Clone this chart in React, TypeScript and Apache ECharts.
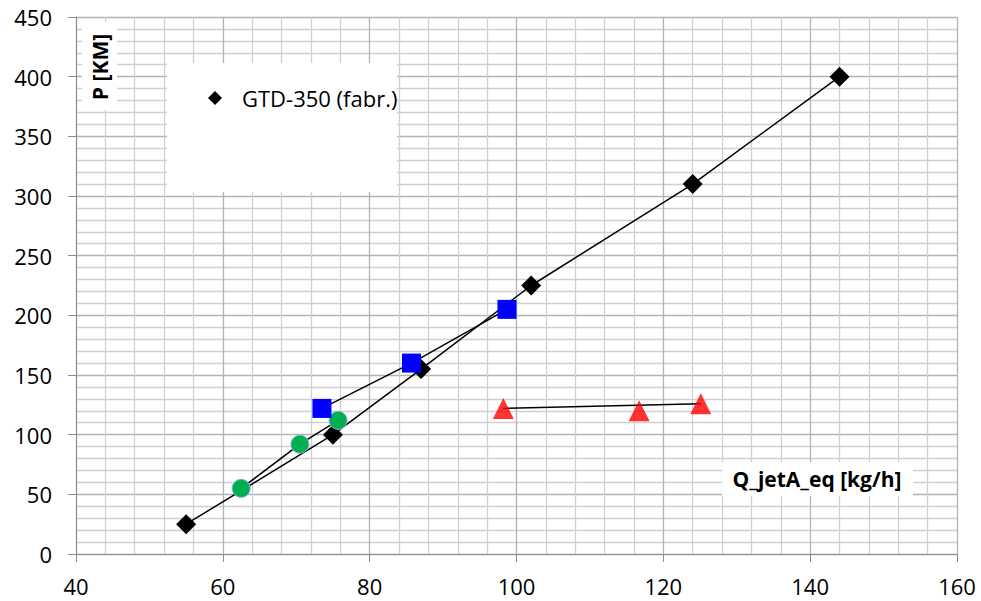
import React, { useEffect, useRef } from "react";
import * as echarts from "echarts";

const gtdX = [55, 75, 87, 102, 124, 144];
const gtdY = [25, 100, 155, 225, 310, 400];
const blueX = [73.5, 85.7, 98.7];
const blueY = [122, 160, 205];
const greenX = [62.5, 70.5, 75.7];
const greenY = [55, 92, 112];
const redX = [98.2, 116.7, 125.1];
const redY = [122, 120, 126];

const legendName = "GTD-350 (fabr.)";
const xAxisName = "Q_jetA_eq [kg/h]";
const yAxisName = "P [KM]";

const pairs = (xs: number[], ys: number[]) => xs.map((x, i) => [x, ys[i]]);

export default function App() {
  const ref = useRef<HTMLDivElement>(null);
  useEffect(() => {
    if (!ref.current) return;
    const chart = echarts.init(ref.current, undefined, { renderer: "svg" });
    const font = "'Open Sans', 'Noto Sans', sans-serif";
    const redLine = [
      [redX[0], redY[0]],
      [redX[redX.length - 1], redY[redY.length - 1]],
    ];
    chart.setOption({
      animation: false,
      backgroundColor: "#ffffff",
      textStyle: { fontFamily: font },
      grid: { left: 76, right: 24, top: 17, bottom: 47, containLabel: false },
      legend: {
        data: [{ name: legendName, icon: "diamond" }],
        left: 203,
        top: 82,
        itemWidth: 14,
        itemHeight: 14,
        itemGap: 10,
        textStyle: { fontSize: 22, color: "#000", fontFamily: font, padding: [0, 0, 0, 15] },
        z: 5,
      },
      xAxis: {
        type: "value",
        min: 40,
        max: 160,
        interval: 20,
        axisLine: { show: true, lineStyle: { color: "#8c8c8c", width: 1 } },
        axisTick: { show: true, length: 8, lineStyle: { color: "#8c8c8c" } },
        axisLabel: { fontSize: 22, color: "#000", margin: 21, fontFamily: font },
        splitLine: { show: true, lineStyle: { color: "#b3b3b3", width: 1.3 } },
        minorTick: { show: false, splitNumber: 5 },
        minorSplitLine: { show: true, lineStyle: { color: "#d0d0d0", width: 1.3 } },
      },
      yAxis: {
        type: "value",
        min: 0,
        max: 450,
        interval: 50,
        axisLine: { show: true, lineStyle: { color: "#8c8c8c", width: 1 } },
        axisTick: { show: true, length: 8, lineStyle: { color: "#8c8c8c" } },
        axisLabel: { fontSize: 22, color: "#000", margin: 24, fontFamily: font },
        splitLine: { show: true, lineStyle: { color: "#b3b3b3", width: 1.3 } },
        minorTick: { show: false, splitNumber: 5 },
        minorSplitLine: { show: true, lineStyle: { color: "#d0d0d0", width: 1.3 } },
      },
      graphic: [
        {
          type: "rect",
          z: 1,
          shape: { x: 167, y: 63, width: 230, height: 129 },
          style: { fill: "#ffffff" },
        },
        {
          type: "rect",
          z: 1,
          shape: { x: 82, y: 22, width: 35, height: 88 },
          style: { fill: "#ffffff" },
        },
        {
          type: "text",
          z: 2,
          x: 100,
          y: 67,
          rotation: Math.PI / 2,
          style: {
            text: yAxisName,
            fontSize: 21,
            fontWeight: "bold",
            fontFamily: font,
            fill: "#000",
            align: "center",
            verticalAlign: "middle",
          },
        },
        {
          type: "rect",
          z: 1,
          shape: { x: 722, y: 462, width: 191, height: 34 },
          style: { fill: "#ffffff" },
        },
        {
          type: "text",
          z: 2,
          x: 817,
          y: 479,
          style: {
            text: xAxisName,
            fontSize: 21,
            fontWeight: "bold",
            fontFamily: font,
            fill: "#000",
            align: "center",
            verticalAlign: "middle",
          },
        },
      ],
      series: [
        {
          name: legendName,
          type: "line",
          z: 3,
          data: pairs(gtdX, gtdY),
          symbol: "diamond",
          symbolSize: 20,
          itemStyle: { color: "#000" },
          lineStyle: { color: "#000", width: 1.5 },
        },
        {
          name: "green",
          type: "line",
          z: 3,
          data: pairs(greenX, greenY),
          symbol: "circle",
          symbolSize: 18,
          itemStyle: { color: "#00b050", borderColor: "#7fb2d9", borderWidth: 1 },
          lineStyle: { color: "#000", width: 1.5 },
        },
        {
          name: "blue",
          type: "line",
          z: 3,
          data: pairs(blueX, blueY),
          symbol: "rect",
          symbolSize: 19,
          itemStyle: { color: "#0000ff" },
          lineStyle: { color: "#000", width: 1.5 },
        },
        {
          name: "redLine",
          type: "line",
          z: 3,
          data: redLine,
          showSymbol: false,
          symbol: "none",
          lineStyle: { color: "#000", width: 1.5 },
        },
        {
          name: "red",
          type: "scatter",
          z: 3,
          data: pairs(redX, redY),
          symbol: "triangle",
          symbolSize: 21,
          itemStyle: { color: "#ff0000" },
        },
      ],
    });
    return () => chart.dispose();
  }, []);
  return <div ref={ref} style={{ width: 981, height: 601, position: "absolute", left: 0, top: 0 }} />;
}
